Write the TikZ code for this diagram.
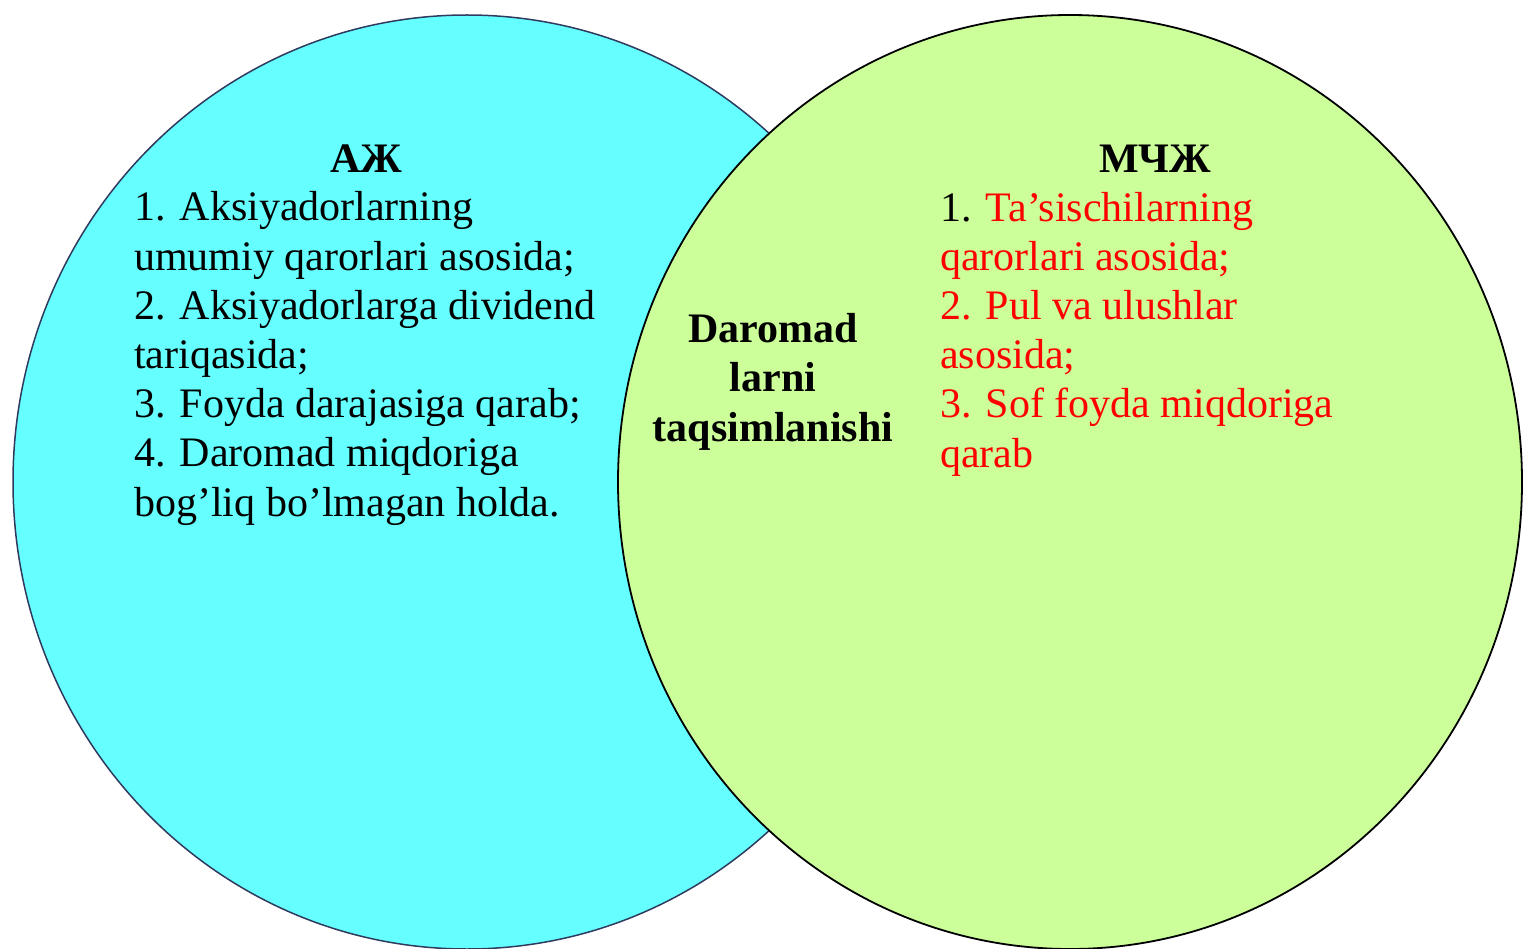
\documentclass[tikz,border=0pt]{standalone}
\usepackage{fontspec}
\setmainfont{Liberation Serif}
\usepackage{tikz}

\definecolor{ajcyan}{HTML}{66FFFF}
\definecolor{mchjgreen}{HTML}{CCFF99}
\definecolor{ajline}{HTML}{2E3B5E}
\definecolor{mchjred}{HTML}{FF0000}

\tikzset{
  listtext/.style={anchor=base west, align=left, inner sep=0pt,
    font=\fontsize{42}{49.2}\selectfont},
  headtext/.style={anchor=base, inner sep=0pt,
    font=\fontsize{42}{49.2}\selectfont\bfseries}
}

\begin{document}
\begin{tikzpicture}[x=1pt,y=-1pt]
\useasboundingbox (0,0) rectangle (1523,949);
% Circles
\draw[ajline, line width=1.5pt, fill=ajcyan] (467,482) ellipse [x radius=454pt, y radius=467pt];
\draw[black, line width=1.8pt, fill=mchjgreen] (1070,482) ellipse [x radius=452pt, y radius=467pt];
% Left set (base = last line)
\node[headtext] (aj) at (366,173) {АЖ};
\node[listtext] (ajlist) at (134,516) {1. Aksiyadorlarning\\
umumiy qarorlari asosida;\\
2. Aksiyadorlarga dividend\\
tariqasida;\\
3. Foyda darajasiga qarab;\\
4. Daromad miqdoriga\\
bog’liq bo’lmagan holda.};
% Common part
\node[headtext, align=center] (daromad) at (773,441) {Daromad\\ larni\\ taqsimlanishi};
% Right set
\node[headtext] (mchj) at (1155,173) {МЧЖ};
\node[listtext] (mchjlist) at (940,467) {1. \textcolor{mchjred}{Ta’sischilarning}\\
\textcolor{mchjred}{qarorlari asosida;}\\
\textcolor{mchjred}{2. Pul va ulushlar}\\
\textcolor{mchjred}{asosida;}\\
\textcolor{mchjred}{3. Sof foyda miqdoriga}\\
\textcolor{mchjred}{qarab}};
\end{tikzpicture}
\end{document}
